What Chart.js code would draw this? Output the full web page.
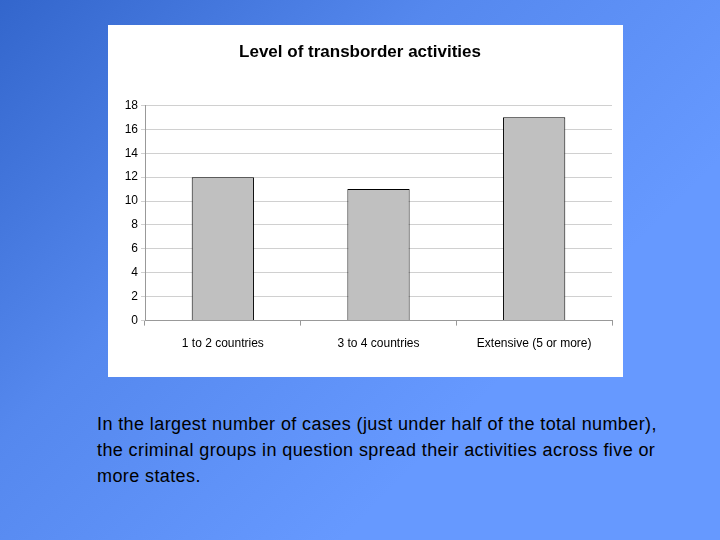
<!DOCTYPE html>
<html><head><meta charset="utf-8">
<script src="https://cdn.jsdelivr.net/npm/chart.js@4"></script>
<style>
html,body{margin:0;padding:0;width:720px;height:540px;overflow:hidden;}
body{background:linear-gradient(135deg,#3366cc 0%,#5588ee 35%,#6699ff 70%,#6699ff 100%);position:relative;font-family:"Liberation Sans",Arial,sans-serif;}
#box{position:absolute;left:108px;top:25px;width:515px;height:352px;background:#fff;}
#txt{position:absolute;left:97px;top:411px;width:560px;font-size:18px;line-height:26px;color:#000;letter-spacing:0.4px;}
</style></head><body>
<div id="box"><canvas id="c" width="515" height="352"></canvas></div>
<div id="txt">In the largest number of cases (just under half of the total number), the criminal groups in question spread their activities across five or more states.</div>
<script>
const categories=["1 to 2 countries","3 to 4 countries","Extensive (5 or more)"];
const values=[12,11,17];
const titleText="Level of transborder activities";
new Chart(document.getElementById('c'),{
type:'bar',
data:{labels:categories,datasets:[{data:values,backgroundColor:'#c0c0c0',borderColor:'#000',borderWidth:1,barPercentage:0.4,categoryPercentage:1}]},
options:{responsive:false,animation:false,
layout:{padding:{left:0,right:11,top:0,bottom:15}},
plugins:{legend:{display:false},tooltip:{enabled:false},
title:{display:true,text:titleText,color:'#000',font:{family:'Liberation Sans',size:17,weight:'bold'},padding:{top:17,bottom:43}}},
scales:{
x:{offset:true,grid:{offset:true,drawOnChartArea:false,color:'#999',tickLength:5},border:{color:'#999'},
ticks:{color:'#000',font:{family:'Liberation Sans',size:12},padding:11,maxRotation:0}},
y:{min:0,max:18,afterFit:a=>{a.width=37;},ticks:{stepSize:2,color:'#000',font:{family:'Liberation Sans',size:12}},
grid:{color:'#d0d0d0',tickLength:4},border:{color:'#999'}}
}}});
</script></body></html>
